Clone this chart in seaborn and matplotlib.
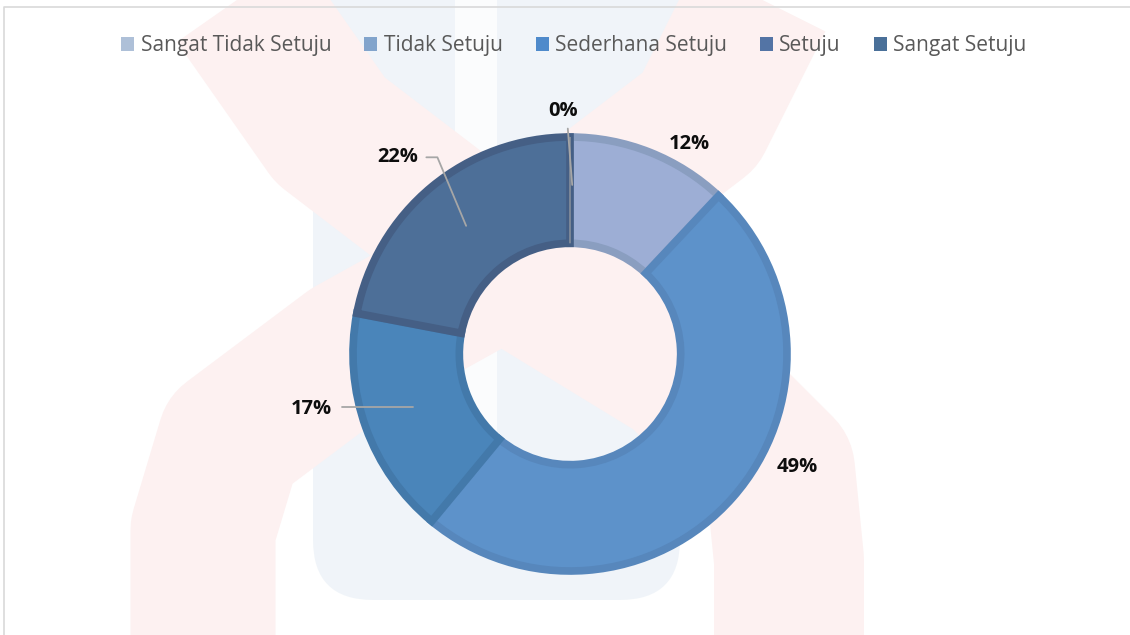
import numpy as np
import matplotlib
matplotlib.use("Agg")
import matplotlib.pyplot as plt
import seaborn as sns
from matplotlib.patches import FancyBboxPatch

# ---- data ----
categories = ["Sangat Tidak Setuju", "Tidak Setuju", "Sederhana Setuju", "Setuju", "Sangat Setuju"]
values = [12, 49, 17, 22, 0]
pct_labels = ["12%", "49%", "17%", "22%", "0%"]

legend_colors = ["#AEC0D8", "#82A4CC", "#4F8ACB", "#5374A5", "#4A7099"]
slice_colors = ["#9DAED5", "#5D92CA", "#4A85BA", "#4D6F98", "#486E96"]
edge_colors = ["#8A9EC0", "#5787BC", "#4379AA", "#455F85", "#42668C"]

sns.set_theme(style="white")
plt.rcParams["font.family"] = ["Open Sans", "DejaVu Sans"]

W, H = 1130, 635
fig = plt.figure(figsize=(W / 100, H / 100), dpi=100)
fig.patch.set_facecolor("white")

# ---- faint watermark background ----
bg = fig.add_axes([0, 0, 1, 1], zorder=0)
bg.set_xlim(0, W)
bg.set_ylim(H, 0)
bg.axis("off")
r1 = np.array([(225, -20), (330, 130), (500, 260), (680, 370), (780, 470), (789, 560), (789, 660)])
r2 = np.array([(770, -20), (700, 120), (530, 250), (350, 350), (230, 440), (203, 530), (203, 660)])
for pts, wpx in ((r1, 150), (r2, 145)):
    bg.plot(pts[:, 0], pts[:, 1], color="#FDF1F1", lw=wpx * 0.72,
            solid_joinstyle="round", solid_capstyle="butt")
bg.add_patch(FancyBboxPatch((313 + 60, -200), 367 - 120, 740, boxstyle="round,pad=60",
                            fc="#EEF3F8", ec="none", alpha=0.85))
bg.add_patch(FancyBboxPatch((455 + 20, -100), 42 - 40, 630, boxstyle="round,pad=20",
                            fc="white", ec="none", alpha=0.8))
# chart frame
bg.plot([3.5, 3.5, W + 5], [H + 5, 6.5, 6.5], color="#D9D9D9", lw=1.2)

# ---- donut ----
cx, cy, R, half = 570, 354, 217, 280
ax = fig.add_axes([(cx - half) / W, (H - cy - half) / H, 2 * half / W, 2 * half / H], zorder=2)

wedges, _ = ax.pie(values, colors=slice_colors, startangle=90, counterclock=False,
                   radius=1.0, wedgeprops=dict(width=0.49, linewidth=5.5))
for w, ec, v in zip(wedges, edge_colors, values):
    w.set_edgecolor(ec)
    if v == 0:
        w.set_linewidth(0.8)
        w.set_edgecolor("#A6A6A6")

ax.set_xlim(-half / R, half / R)
ax.set_ylim(-half / R, half / R)
ax.set_aspect("equal")
ax.axis("off")
ax.patch.set_alpha(0)

# data labels (positions in data units, radius 1 = outer edge)
s = 221 / R
label_pos = [(0.54 * s, 0.95 * s), (1.03 * s, -0.51 * s), (-1.17 * s, -0.25 * s),
             (-0.78 * s, 0.89 * s), (-0.03 * s, 1.10 * s)]
leader_lines = [None, None,
                [(-0.71, -0.24), (-1.03, -0.24)],
                [(-0.47, 0.58), (-0.60, 0.89), (-0.65, 0.89)],
                [(0.01, 0.765), (-0.01, 1.02)]]
for lab, (x, y), ll in zip(pct_labels, label_pos, leader_lines):
    ax.text(x, y, lab, ha="center", va="center", fontsize=14.5, fontweight="bold", color="#0D0D0D")
    if ll:
        xs, ys = zip(*[(a * s, b * s) for a, b in ll])
        ax.plot(xs, ys, color="#A6A6A6", lw=1.3)

# ---- legend ----
handles = [plt.Rectangle((0, 0), 1, 1, fc=c, ec="none") for c in legend_colors]
leg = fig.legend(handles, categories, loc="center", bbox_to_anchor=(574 / W, 1 - 46 / H),
                 ncol=5, frameon=False, fontsize=15, handlelength=0.62, handleheight=0.62,
                 handletextpad=0.3, columnspacing=1.6, labelcolor="#595959")

fig.savefig("out.png", dpi=100)
